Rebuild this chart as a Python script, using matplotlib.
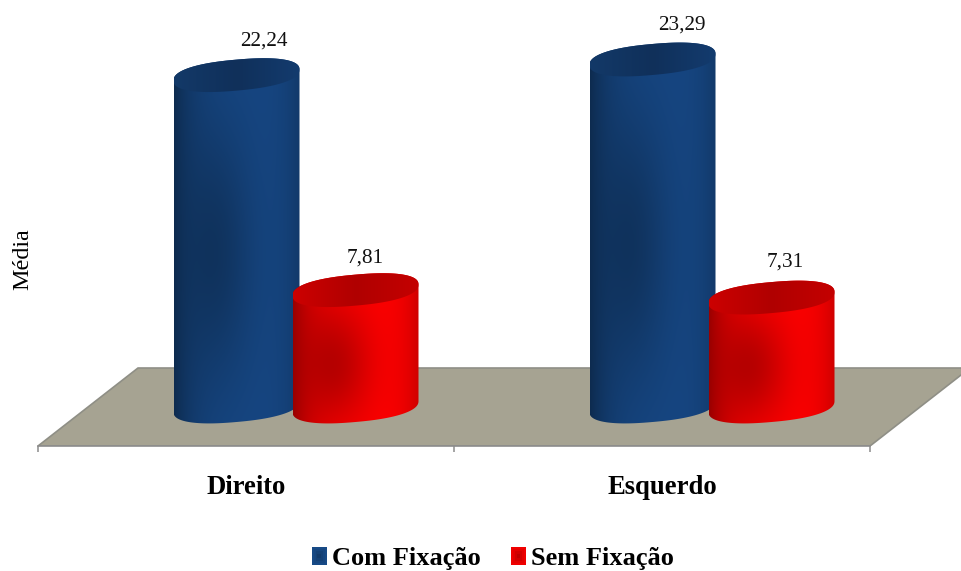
import numpy as np
import matplotlib
matplotlib.use("Agg")
import matplotlib.pyplot as plt
from matplotlib.colors import LinearSegmentedColormap, to_rgb
from matplotlib.patches import Patch, Polygon, Rectangle

plt.rcParams['font.family'] = ['Liberation Serif', 'DejaVu Serif']

categories = ['Direito', 'Esquerdo']
series_names = ['Com Fixação', 'Sem Fixação']
com_fixacao = [22.24, 23.29]
sem_fixacao = [7.81, 7.31]

# scale of the plot: one category = 416 px, one unit of Média = 14.9 px
PX_X = 1 / 416
PX_Y = 1 / 14.9
DEPTH = 100 * PX_X
HALF_W = 63 * PX_X
CAP_B = 15.5 * PX_Y
CAP_TILT = 5.5 * PX_Y

blue_map = LinearSegmentedColormap.from_list('blue', ['#0c2747', '#164682'])
red_map = LinearSegmentedColormap.from_list('red', ['#8a0000', '#ff0000'])
blue_cap = LinearSegmentedColormap.from_list('bcap', ['#133968', '#10305a', '#133b6e'])
red_cap = LinearSegmentedColormap.from_list('rcap', ['#cc0000', '#b00000', '#c40000'])


def ring(cx, cy, start, stop):
    # tilted ellipse, slightly squared off so the lid looks full
    t = np.linspace(start, stop, 120)
    c = np.sign(np.cos(t)) * np.abs(np.cos(t)) ** 0.85
    s = np.sign(np.sin(t)) * np.abs(np.sin(t)) ** 0.85
    return np.column_stack([cx + HALF_W * c, cy + CAP_TILT * c + CAP_B * s])


def cylinder(ax, cx, value, cmap, cap_map, spot, z):
    # body outline: lower half of the base, then upper half of the top
    body = np.vstack([ring(cx, 0, np.pi, 2 * np.pi), ring(cx, value, 0, np.pi)])
    clip = Polygon(body, closed=True, transform=ax.transData, fc='none', ec='none')
    ax.add_patch(clip)

    y0, y1 = -2 * CAP_B, value + 2 * CAP_B
    u, v = np.meshgrid(np.linspace(-1, 1, 200), np.linspace(y0, y1, 300))
    edge = 1 - 0.85 * np.abs((u - 0.12) / 1.12) ** 3
    d2 = ((u + 0.35) / 0.6) ** 2 + ((v - value * spot) / (value * 0.32 + 1.5)) ** 2
    shade = edge * (1 - 0.6 * np.exp(-d2))
    img = ax.imshow(shade, extent=[cx - HALF_W, cx + HALF_W, y0, y1], origin='lower',
                    cmap=cmap, vmin=0, vmax=1, aspect='auto', zorder=z)
    img.set_clip_path(clip)

    # lid of the cylinder
    lid = Polygon(ring(cx, value, 0, 2 * np.pi), closed=True, transform=ax.transData,
                  fc='none', ec='none')
    ax.add_patch(lid)
    grad = np.linspace(0, 1, 100).reshape(1, -1)
    top = ax.imshow(grad, extent=[cx - HALF_W, cx + HALF_W, value - 2 * CAP_B, value + 2 * CAP_B],
                    cmap=cap_map, aspect='auto', zorder=z + 0.5)
    top.set_clip_path(lid)


class SwatchHandler:
    # square legend key, a little darker towards the middle
    def legend_artist(self, legend, orig_handle, fontsize, handlebox):
        w, h = handlebox.width, handlebox.height
        col = np.array(to_rgb(orig_handle.get_facecolor()))
        for k, scale in zip([1.0, 0.75, 0.5, 0.25], [1.0, 0.95, 0.88, 0.8]):
            handlebox.add_artist(Rectangle((w * (1 - k) / 2, h * (1 - k) / 2), w * k, h * k,
                                           fc=col * scale, ec='none',
                                           transform=handlebox.get_transform()))
        return handlebox


fig = plt.figure(figsize=(9.61, 5.71), dpi=100)
ax = fig.add_axes([0, 125 / 571, 1, 446 / 571])

y_front = -39.5 * PX_Y
y_back = 38.5 * PX_Y

# floor of the 3D plot
floor = Polygon([(-0.5, y_front), (-0.5 + DEPTH, y_back), (1.5 + DEPTH, y_back), (1.5, y_front)],
                closed=True, fc='#a6a392', ec='#8f8f86', lw=1.2, zorder=1)
ax.add_patch(floor)

for i in range(len(categories)):
    cylinder(ax, i + DEPTH / 2 - 59.5 * PX_X, com_fixacao[i], blue_map, blue_cap, 0.46, 3)
    cylinder(ax, i + DEPTH / 2 + 59.5 * PX_X, sem_fixacao[i], red_map, red_cap, 0.36, 4)

# value labels sit a little to the right of each lid
label_shift = [[(27, 34), (29, 34)], [(10, 32), (14, 36)]]
for j, (vals, sign) in enumerate(zip([com_fixacao, sem_fixacao], [-1, 1])):
    for i, val in enumerate(vals):
        dx, dy = label_shift[j][i]
        ax.annotate(f'{val:.2f}'.replace('.', ','),
                    (i + DEPTH / 2 + sign * 59.5 * PX_X, val),
                    xytext=(dx * 0.72, dy * 0.72), textcoords='offset points',
                    ha='center', va='center', fontsize=15.3, color='#111111', zorder=6)

ax.set_xlim(-246 * PX_X, 715 * PX_X)
ax.set_ylim(y_front, 406.5 * PX_Y)

ax.set_xticks([-0.5, 0.5, 1.5])
ax.set_xticklabels([])
ax.set_xticks([0, 1], minor=True)
ax.set_xticklabels(categories, minor=True, fontsize=19.2, fontweight='bold')
ax.tick_params(axis='x', which='major', length=4.6, width=1.1, color='#8c8c8c')
ax.tick_params(axis='x', which='minor', length=0, pad=21)
ax.set_yticks([])
for side in ['top', 'left', 'right']:
    ax.spines[side].set_visible(False)
ax.spines['bottom'].set_color('#8c8c8c')
ax.spines['bottom'].set_linewidth(1.2)
ax.spines['bottom'].set_bounds(-0.5, 1.5)

ax.set_ylabel('Média', fontsize=17.4)
ax.yaxis.set_label_coords(33 / 961, 187 / 446)

handles = [Patch(fc='#174a86', ec='none', label=series_names[0]),
           Patch(fc='#f00000', ec='none', label=series_names[1])]
fig.legend(handles=handles, handler_map={Patch: SwatchHandler()}, loc='center',
           bbox_to_anchor=(493 / 961, 1 - 558.5 / 571), ncol=2, frameon=False,
           handlelength=0.56, handleheight=0.7, handletextpad=0.2, columnspacing=1.15,
           prop={'size': 19, 'weight': 'bold'}, borderpad=0)

fig.savefig('out.png', dpi=100)
